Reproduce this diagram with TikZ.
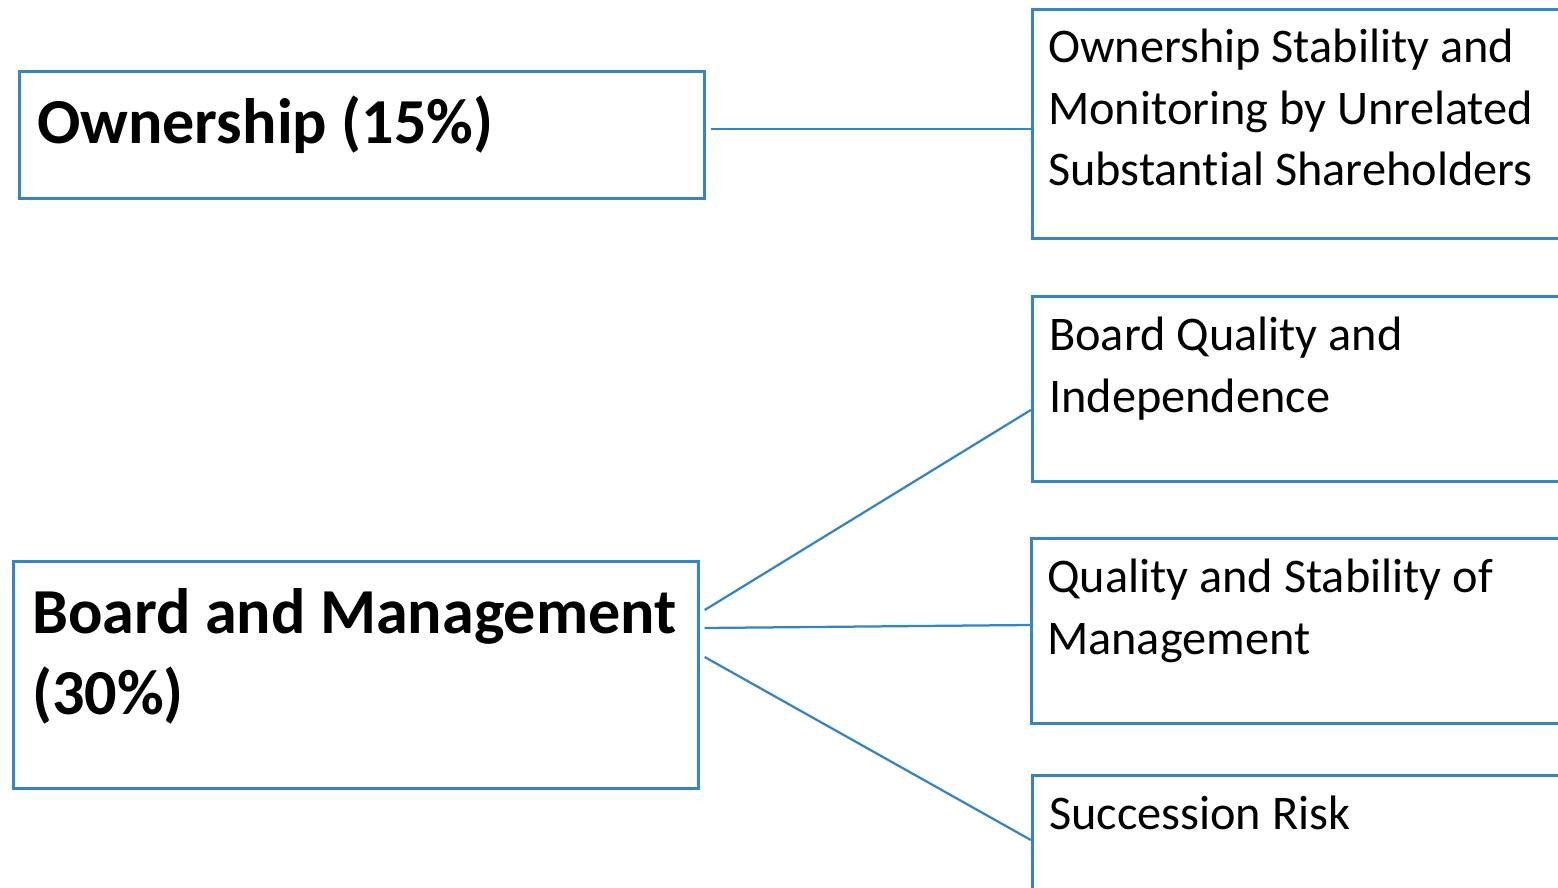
\documentclass[tikz,border=0pt]{standalone}
\usepackage{fontspec}
\setmainfont{Carlito}[Ligatures=NoCommon]
\usepackage{tikz}
\usetikzlibrary{calc}
\definecolor{boxblue}{RGB}{52,132,198}

\begin{document}
\begin{tikzpicture}[x=0.02cm, y=-0.02cm,
        mainbox/.style={draw=boxblue, line width=0.07cm, minimum width=13.7cm, inner sep=0},
        subbox/.style={draw=boxblue, line width=0.07cm, minimum width=12.8cm, minimum height=3.7cm, inner sep=0},
        maintext/.style={anchor=north west, inner sep=0, align=left, font=\fontsize{36.5}{46.5}\selectfont\bfseries},
        subtext/.style={anchor=north west, inner sep=0, align=left, font=\fontsize{27.5}{35.2}\selectfont},
        link/.style={draw=boxblue, line width=0.045cm}]
    \useasboundingbox (0,0) rectangle (1558,888);
    \clip (0,0) rectangle (1558,888);

    % left boxes
    \node[mainbox, minimum height=2.54cm] (own) at (362,135) {};
    \node[mainbox, minimum height=4.54cm] (board) at (356,675) {};
    \node[maintext] (ownt) at ([shift={(19,26)}]own.north west) {Ownership (15\%)};
    \node[maintext] (boardt) at ([shift={(20,28)}]board.north west) {Board and Management\\(30\%)};

    % right boxes
    \node[subbox, minimum height=4.58cm] (osm) at (1352.5,124) {};
    \node[subbox] (bqi) at (1352.5,389) {};
    \node[subbox] (qsm) at (1351.5,631) {};
    \node[subbox] (sr) at (1352.5,868) {};
    \node[subtext] (osmt) at ([shift={(17,20.5)}]osm.north west) {Ownership Stability and\\Monitoring by Unrelated\\Substantial Shareholders};
    \node[subtext] (bqit) at ([shift={(18,21.5)}]bqi.north west) {Board Quality and\\Independence};
    \node[subtext] (qsmt) at ([shift={(17,21.5)}]qsm.north west) {Quality and Stability of\\Management};
    \node[subtext] (srt) at ([shift={(18,21.5)}]sr.north west) {Succession Risk};

    % links
    \draw[link] ([shift={(5,-6)}]own.east) -- ([shift={(0,5)}]osm.west);
    \draw[link] ([shift={(4.5,-65)}]board.east) -- ([shift={(0,21)}]bqi.west);
    \draw[link] ([shift={(4.5,-47)}]board.east) -- ([shift={(0,-6)}]qsm.west);
    \draw[link] ([shift={(4.5,-18)}]board.east) -- ([shift={(0,-28)}]sr.west);
\end{tikzpicture}
\end{document}
